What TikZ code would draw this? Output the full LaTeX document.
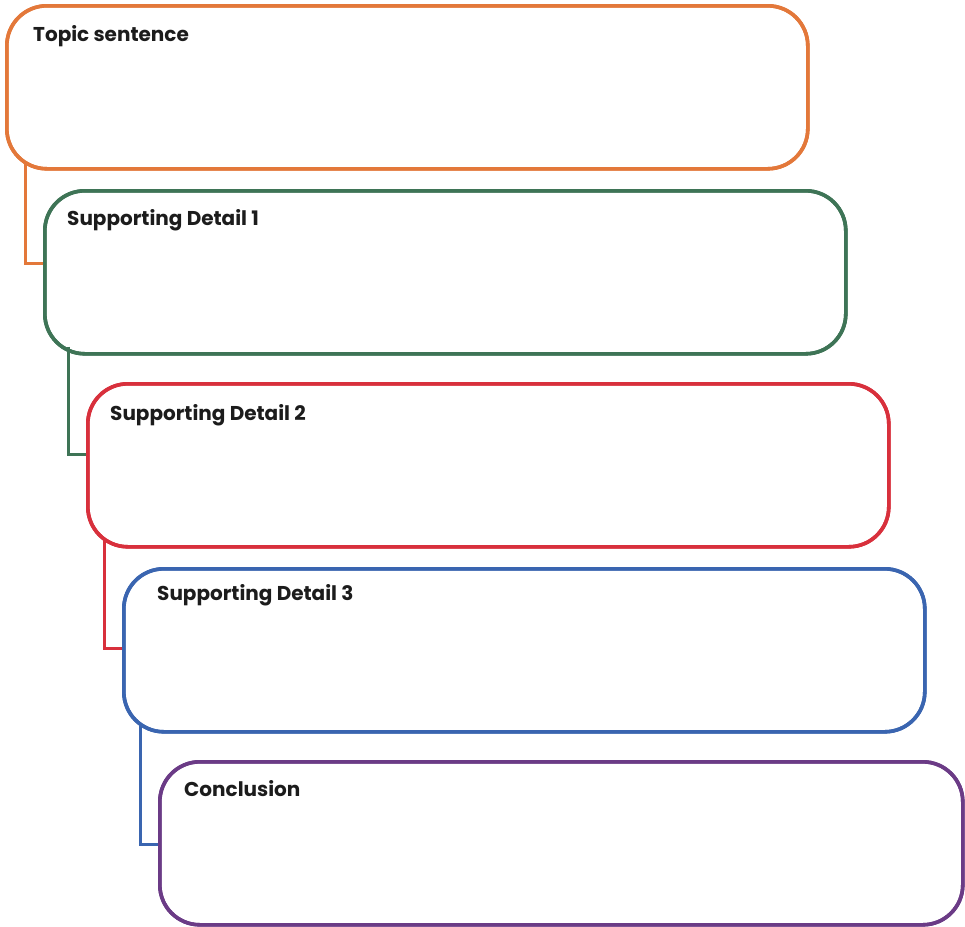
\documentclass[tikz,border=0pt]{standalone}
\usepackage{fontspec}
\setmainfont{Poppins}
\usetikzlibrary{calc}
\definecolor{cOrange}{HTML}{E3783A}
\definecolor{cGreen}{HTML}{3E7456}
\definecolor{cRed}{HTML}{D8303C}
\definecolor{cBlue}{HTML}{3A65B0}
\definecolor{cPurple}{HTML}{6B3B86}
\definecolor{cText}{HTML}{1C1C1C}
\tikzset{
  pbox/.style={draw=#1, line width=3.6pt, rounded corners=40pt, fill=white,
    minimum width=801pt, minimum height=163pt, anchor=north west, inner sep=0pt},
  plink/.style={draw=#1, line width=3pt},
  plabel/.style={anchor=base west, text=cText, font=\fontsize{20}{24}\selectfont\bfseries, inner sep=0pt},
}
\begin{document}
\begin{tikzpicture}[x=1pt,y=-1pt]
\path[use as bounding box] (0,0) rectangle (965,926);
\coordinate (k1) at (25,160);
\coordinate (k2) at (68,346);
\coordinate (k3) at (104,539);
\coordinate (k4) at (140,724);
\node[pbox=cOrange] (b1) at (5,4) {};
\node[pbox=cGreen] (b2) at (43,189) {};
\node[pbox=cRed] (b3) at (86,382) {};
\node[pbox=cBlue] (b4) at (122,567) {};
\node[pbox=cPurple, minimum width=803pt] (b5) at (158,760) {};
% connectors
\draw[plink=cOrange] (b1.south west -| k1) ++(0,-9) |- ($(b2.west)+(0,-9)$);
\draw[plink=cGreen] (b2.south west -| k2) ++(0,-9) |- ($(b3.west)+(0,-11)$);
\draw[plink=cRed] (b3.south west -| k3) ++(0,-9) |- ($(b4.west)+(0,-2)$);
\draw[plink=cBlue] (b4.south west -| k4) ++(0,-9) |- ($(b5.west)+(0,1)$);
% box outlines over connector ends
\node[pbox=cOrange, fill=none] (b1o) at (5,4) {};
\node[pbox=cGreen, fill=none] (b2o) at (43,189) {};
\node[pbox=cRed, fill=none] (b3o) at (86,382) {};
\node[pbox=cBlue, fill=none] (b4o) at (122,567) {};
\node[pbox=cPurple, fill=none, minimum width=803pt] (b5o) at (158,760) {};
% labels
\node[plabel] (t1) at (33,41) {Topic sentence};
\node[plabel] (t2) at (67,225) {Supporting Detail 1};
\node[plabel] (t3) at (110,420) {Supporting Detail 2};
\node[plabel] (t4) at (157,600) {Supporting Detail 3};
\node[plabel] (t5) at (184,796) {Conclusion};
\end{tikzpicture}
\end{document}
